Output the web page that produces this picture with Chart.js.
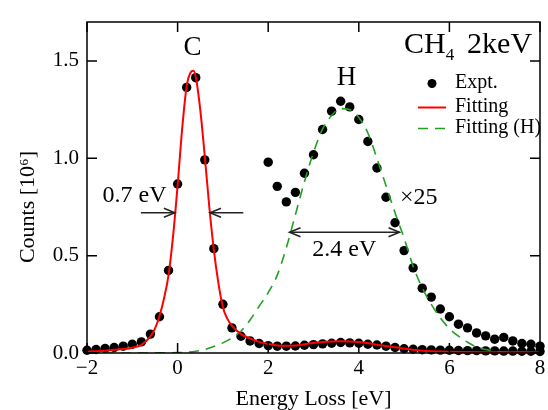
<!DOCTYPE html>
<html><head><meta charset="utf-8">
<script src="https://cdn.jsdelivr.net/npm/chart.js@4.4.0/dist/chart.umd.min.js"></script>
<style>html,body{margin:0;padding:0;background:#fff;}canvas{display:block;}</style>
</head><body>
<canvas id="c" width="548" height="410"></canvas>
<script>
// ---- data ----
const exptEnergy = [-2.0,-1.8,-1.6,-1.4,-1.2,-1.0,-0.8,-0.6,-0.4,-0.2,0.0,0.2,0.4,0.6,0.8,1.0,1.2,1.4,1.6,1.8,2.0,2.2,2.4,2.6,2.8,3.0,3.2,3.4,3.6,3.8,4.0,4.2,4.4,4.6,4.8,5.0,5.2,5.4,5.6,5.8,6.0,6.2,6.4,6.6,6.8,7.0,7.2,7.4,7.6,7.8,8.0];
const exptCounts = [0.014,0.018,0.023,0.028,0.035,0.045,0.057,0.097,0.186,0.424,0.868,1.364,1.414,0.992,0.536,0.250,0.129,0.086,0.062,0.049,0.038,0.035,0.035,0.036,0.040,0.043,0.047,0.050,0.054,0.052,0.050,0.045,0.041,0.035,0.028,0.022,0.019,0.017,0.016,0.015,0.014,0.013,0.012,0.012,0.011,0.011,0.010,0.010,0.009,0.009,0.008];
const x25Energy = [2.0,2.2,2.4,2.6,2.8,3.0,3.2,3.4,3.6,3.8,4.0,4.2,4.4,4.6,4.8,5.0,5.2,5.4,5.6,5.8,6.0,6.2,6.4,6.6,6.8,7.0,7.2,7.4,7.6,7.8,8.0];
const x25Counts = [0.980,0.856,0.776,0.825,0.923,1.018,1.148,1.242,1.293,1.264,1.199,1.086,0.950,0.800,0.669,0.526,0.437,0.333,0.287,0.226,0.186,0.148,0.129,0.103,0.088,0.071,0.080,0.062,0.049,0.045,0.035];
const fitEnergy = [-2.0,-1.6,-1.2,-1.0,-0.8,-0.6,-0.5,-0.4,-0.3,-0.2,-0.1,0.0,0.1,0.2,0.3,0.35,0.4,0.5,0.6,0.7,0.8,0.9,1.0,1.1,1.2,1.4,1.6,1.8,2.0,2.2,2.4,2.6,2.8,3.0,3.2,3.4,3.6,3.8,4.0,4.2,4.4,4.6,4.8,5.0,5.2,5.4,5.6,6.0,7.0,8.0];
const fitCounts = [0.008,0.012,0.020,0.027,0.042,0.085,0.125,0.190,0.280,0.400,0.600,0.860,1.150,1.370,1.445,1.450,1.420,1.250,1.010,0.750,0.530,0.360,0.235,0.175,0.140,0.097,0.075,0.057,0.046,0.039,0.037,0.039,0.045,0.051,0.056,0.059,0.060,0.059,0.056,0.050,0.043,0.036,0.029,0.023,0.017,0.012,0.009,0.006,0.004,0.003];
const fitHEnergy = exptEnergy;
const fitHCounts = [0,0,0,0,0,0,0,0,0.001,0.001,0.002,0.004,0.009,0.018,0.033,0.052,0.077,0.113,0.170,0.240,0.310,0.400,0.540,0.710,0.880,1.030,1.150,1.220,1.255,1.250,1.210,1.130,1.000,0.860,0.720,0.590,0.445,0.335,0.250,0.180,0.125,0.087,0.055,0.031,0.018,0.009,0.005,0.003,0.002,0.001,0.000];
const xTicks = [-2,0,2,4,6,8];
const yTicks = [0,0.5,1.0,1.5];
const legendLabels = ['Expt.','Fitting','Fitting (H)'];
const yTitle = 'Counts [10\u2076]';

// ---- styling / layout ----
const FONT = "'Liberation Serif','Times New Roman',serif";
const RED = '#ff0000', GREEN = '#22a022';
const pts = (xs, ys) => xs.map((v, i) => ({x: v, y: ys[i]}));

const annotations = {
  peakLabels: [{text: 'C', x: 0.33, y: 1.53}, {text: 'H', x: 3.73, y: 1.376}],
  texts: [
    {text: '0.7 eV', x: -0.95, y: 0.773, align: 'center'},
    {text: '2.4 eV', x: 3.68, y: 0.497, align: 'center'},
    {text: '\u00d725', x: 4.91, y: 0.764, align: 'left'}
  ],
  arrows: [
    {x1: -0.81, x2: -0.06, y: 0.72, heads: [2]},
    {x1: 1.45, x2: 0.715, y: 0.72, heads: [2]},
    {x1: 2.47, x2: 4.9, y: 0.62, heads: [1, 2]}
  ],
  title: {x: 5.0, y: 1.54}
};

function arrowHead(ctx, tx, ty, dir) {
  ctx.beginPath();
  ctx.moveTo(tx - dir * 11, ty - 4.5);
  ctx.lineTo(tx, ty);
  ctx.lineTo(tx - dir * 11, ty + 4.5);
  ctx.stroke();
}

const annot = {
  id: 'annot',
  afterDatasetsDraw(chart) {
    const {ctx, chartArea: a, scales: {x, y}} = chart;
    ctx.save();
    ctx.strokeStyle = '#000';
    ctx.lineWidth = 1.5;
    ctx.strokeRect(a.left, a.top, a.right - a.left, a.bottom - a.top);
    ctx.beginPath();
    xTicks.forEach(v => {
      const px = x.getPixelForValue(v);
      ctx.moveTo(px, a.bottom); ctx.lineTo(px, a.bottom - 10);
      ctx.moveTo(px, a.top); ctx.lineTo(px, a.top + 10);
    });
    yTicks.forEach(v => {
      const py = y.getPixelForValue(v);
      ctx.moveTo(a.left, py); ctx.lineTo(a.left + 10, py);
      ctx.moveTo(a.right, py); ctx.lineTo(a.right - 10, py);
    });
    ctx.stroke();

    ctx.fillStyle = '#000';
    ctx.textBaseline = 'alphabetic';
    ctx.font = '27px ' + FONT;
    ctx.textAlign = 'center';
    annotations.peakLabels.forEach(t => ctx.fillText(t.text, x.getPixelForValue(t.x), y.getPixelForValue(t.y)));
    ctx.font = '24px ' + FONT;
    annotations.texts.forEach(t => {
      ctx.textAlign = t.align;
      ctx.fillText(t.text, x.getPixelForValue(t.x), y.getPixelForValue(t.y));
    });

    // arrows
    ctx.strokeStyle = '#222';
    ctx.lineWidth = 1.5;
    annotations.arrows.forEach(ar => {
      const p1 = x.getPixelForValue(ar.x1), p2 = x.getPixelForValue(ar.x2), py = y.getPixelForValue(ar.y);
      ctx.beginPath(); ctx.moveTo(p1, py); ctx.lineTo(p2, py); ctx.stroke();
      const dir = p2 > p1 ? 1 : -1;
      if (ar.heads.includes(2)) arrowHead(ctx, p2, py, dir);
      if (ar.heads.includes(1)) arrowHead(ctx, p1, py, -dir);
    });

    // title CH4 2keV
    const tx = x.getPixelForValue(annotations.title.x), ty = y.getPixelForValue(annotations.title.y);
    ctx.textAlign = 'left';
    ctx.font = '30px ' + FONT;
    ctx.fillText('CH', tx, ty);
    let w = ctx.measureText('CH').width;
    ctx.font = '17px ' + FONT;
    ctx.fillText('4', tx + w, ty + 7);
    ctx.font = '30px ' + FONT;
    ctx.fillText('2keV', tx + 63, ty);

    // y-axis title
    ctx.save();
    ctx.translate(28, 207);
    ctx.rotate(-Math.PI / 2);
    ctx.textAlign = 'center';
    ctx.textBaseline = 'middle';
    ctx.font = '22px ' + FONT;
    ctx.fillText(yTitle, 0, 0);
    ctx.restore();

    // legend
    const lx = a.right, ly = a.top;
    ctx.fillStyle = '#000';
    ctx.beginPath(); ctx.arc(lx - 108, ly + 61.5, 4.5, 0, Math.PI * 2); ctx.fill();
    ctx.strokeStyle = RED; ctx.lineWidth = 2;
    ctx.beginPath(); ctx.moveTo(lx - 122, ly + 85.5); ctx.lineTo(lx - 94, ly + 85.5); ctx.stroke();
    ctx.strokeStyle = GREEN; ctx.lineWidth = 1.6; ctx.setLineDash([10, 7]);
    ctx.beginPath(); ctx.moveTo(lx - 122, ly + 106.5); ctx.lineTo(lx - 94, ly + 106.5); ctx.stroke();
    ctx.setLineDash([]);
    ctx.textAlign = 'left';
    ctx.textBaseline = 'alphabetic';
    ctx.font = '20px ' + FONT;
    ctx.fillStyle = '#000';
    ctx.fillText(legendLabels[0], lx - 85, ly + 66);
    ctx.fillText(legendLabels[1], lx - 85, ly + 90);
    ctx.fillText(legendLabels[2], lx - 85, ly + 111);
    ctx.restore();
  }
};

const fmtX = v => v < 0 ? '\u2212' + Math.abs(v) : String(v);

new Chart(document.getElementById('c'), {
  type: 'scatter',
  data: {
    datasets: [
      {label: legendLabels[1], data: pts(fitEnergy, fitCounts), showLine: true, borderColor: RED, borderWidth: 2, pointRadius: 0, cubicInterpolationMode: 'monotone', order: 0},
      {label: legendLabels[2], data: pts(fitHEnergy, fitHCounts), showLine: true, borderColor: GREEN, borderWidth: 1.6, borderDash: [10, 7], pointRadius: 0, cubicInterpolationMode: 'monotone', order: 1},
      {label: legendLabels[0], data: pts(exptEnergy, exptCounts), showLine: false, pointRadius: 4.7, pointBackgroundColor: '#000', pointBorderWidth: 0, clip: false, order: 2},
      {label: legendLabels[0] + ' x25', data: pts(x25Energy, x25Counts), showLine: false, pointRadius: 4.7, pointBackgroundColor: '#000', pointBorderWidth: 0, clip: false, order: 3}
    ]
  },
  options: {
    responsive: false,
    animation: false,
    events: [],
    layout: {padding: {top: 22, right: 8, left: 0, bottom: 0}},
    plugins: {legend: {display: false}, tooltip: {enabled: false}},
    scales: {
      x: {
        type: 'linear', min: -2, max: 8,
        afterBuildTicks: s => { s.ticks = xTicks.map(v => ({value: v})); },
        afterFit: s => { s.height = 57; s.paddingLeft = 0; s.paddingRight = 0; },
        grid: {display: false, drawTicks: false},
        border: {display: false},
        ticks: {font: {family: FONT, size: 21}, color: '#000', padding: 3, autoSkip: false, maxRotation: 0, callback: v => fmtX(v)},
        title: {display: true, text: 'Energy Loss [eV]', font: {family: FONT, size: 22, lineHeight: 1.0}, color: '#000', padding: {top: 0, bottom: 0}}
      },
      y: {
        type: 'linear', min: 0, max: 1.7,
        afterBuildTicks: s => { s.ticks = yTicks.map(v => ({value: v})); },
        afterFit: s => { s.width = 87; s.paddingTop = 0; s.paddingBottom = 0; },
        grid: {display: false, drawTicks: false},
        border: {display: false},
        ticks: {font: {family: FONT, size: 21}, color: '#000', padding: 8, autoSkip: false, callback: v => Number(v).toFixed(1)},
        title: {display: false}
      }
    }
  },
  plugins: [annot]
});
</script>
</body></html>
